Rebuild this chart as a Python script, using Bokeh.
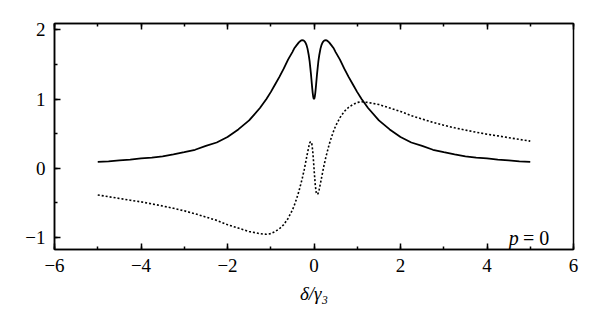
from bokeh.plotting import figure
from bokeh.models import (LinearAxis, SingleIntervalTicker, Range1d, Label,
                          CustomJSTickFormatter)
from bokeh.embed import file_html
from bokeh.resources import INLINE

# detuning delta / gamma_3
x = [-5.0, -4.75, -4.5, -4.25, -4.0, -3.75, -3.5, -3.25, -3.0, -2.75, -2.5,
     -2.25, -2.0, -1.75, -1.5, -1.25, -1.1, -1.0,
     -0.9, -0.8, -0.7, -0.6, -0.5, -0.45, -0.4, -0.35, -0.3, -0.275, -0.25,
     -0.225, -0.2, -0.175, -0.15, -0.12, -0.1, -0.085, -0.07, -0.06, -0.05,
     -0.04, -0.03, -0.02, -0.01,
     0.0,
     0.01, 0.02, 0.03, 0.04, 0.05, 0.06, 0.07, 0.085, 0.1, 0.12, 0.15, 0.175,
     0.2, 0.225, 0.25, 0.275, 0.3, 0.35, 0.4, 0.45, 0.5, 0.6, 0.7, 0.8, 0.9,
     1.0, 1.1, 1.25, 1.5, 1.75, 2.0, 2.25, 2.5, 2.75, 3.0, 3.25, 3.5, 3.75,
     4.0, 4.25, 4.5, 4.75, 5.0]

# solid curve (absorption)
absorption = [0.09, 0.098, 0.11, 0.121, 0.14, 0.152, 0.17, 0.197, 0.23, 0.265,
              0.32, 0.37, 0.45, 0.56, 0.69, 0.87, 1.00,
              1.10, 1.21, 1.32, 1.44, 1.57, 1.68, 1.74, 1.78, 1.82, 1.847,
              1.852, 1.85, 1.84, 1.82, 1.785, 1.73, 1.63, 1.54, 1.45, 1.36,
              1.29, 1.22, 1.15, 1.09, 1.04, 1.01,
              1.00,
              1.01, 1.04, 1.09, 1.15, 1.22, 1.29, 1.36, 1.45, 1.54, 1.63, 1.73,
              1.785, 1.82, 1.84, 1.85, 1.852, 1.847, 1.82, 1.78, 1.74, 1.68,
              1.57, 1.44, 1.32, 1.21, 1.10, 1.00, 0.87, 0.69, 0.56, 0.45, 0.37,
              0.32, 0.265, 0.23, 0.197, 0.17, 0.152, 0.14, 0.121, 0.11, 0.098,
              0.09]

# dotted curve (dispersion)
dispersion = [-0.39, -0.415, -0.44, -0.466, -0.49, -0.519, -0.55, -0.583,
              -0.62, -0.662, -0.71, -0.758, -0.82, -0.87, -0.92,
              -0.95, -0.96, -0.95, -0.92, -0.88, -0.82, -0.73, -0.61, -0.53,
              -0.44, -0.34, -0.22, -0.16, -0.09, -0.02, 0.06, 0.14, 0.22, 0.31,
              0.36, 0.38, 0.38, 0.37, 0.35, 0.30, 0.25, 0.17, 0.09,
              0.0,
              -0.09, -0.17, -0.25, -0.30, -0.35, -0.37, -0.38, -0.38, -0.36,
              -0.31, -0.22, -0.14, -0.06, 0.02, 0.09, 0.16, 0.22, 0.34, 0.44,
              0.53, 0.61, 0.73, 0.82, 0.88, 0.92, 0.95, 0.96, 0.95, 0.92, 0.87,
              0.82, 0.758, 0.71, 0.662, 0.62, 0.583, 0.55, 0.519, 0.49, 0.466,
              0.44, 0.415, 0.39]

FONT = "Liberation Serif"

p = figure(frame_width=519, frame_height=226, output_backend="svg",
           toolbar_location=None,
           x_range=Range1d(-6, 6), y_range=Range1d(-1.18, 2.094),
           min_border_left=54, min_border_right=19, min_border_top=23,
           min_border_bottom=60)

p.line(x, absorption, line_color="black", line_width=1.8)
p.line(x, dispersion, line_color="black", line_width=1.6, line_dash="2 2")

p.grid.visible = False
p.outline_line_color = "black"
p.outline_line_width = 1.5
p.background_fill_color = "white"
p.border_fill_color = "white"

fmt = CustomJSTickFormatter(code="return tick < 0 ? '\\u2212' + Math.abs(tick) : '' + tick;")

xa = p.xaxis[0]
xa.ticker = SingleIntervalTicker(interval=2, num_minor_ticks=2)
xa.formatter = fmt
ya = p.yaxis[0]
ya.ticker = SingleIntervalTicker(interval=1, num_minor_ticks=2)
ya.formatter = fmt

for ax in (xa, ya):
    ax.major_tick_in = 6
    ax.major_tick_out = 0
    ax.minor_tick_in = 3
    ax.minor_tick_out = 0
    ax.axis_line_width = 1.5
    ax.major_tick_line_width = 1.5
    ax.minor_tick_line_width = 1.5
    ax.major_label_text_font = FONT
    ax.major_label_text_font_size = "19px"
    ax.major_label_text_color = "black"
    ax.major_label_standoff = 9

xa.axis_label = "\u03b4/\u03b3\u2083"
xa.axis_label_text_font = FONT
xa.axis_label_text_font_style = "italic"
xa.axis_label_text_font_size = "19px"
xa.axis_label_text_color = "black"
xa.axis_label_standoff = 8

top = LinearAxis(ticker=SingleIntervalTicker(interval=2, num_minor_ticks=2),
                 formatter=CustomJSTickFormatter(code="return '';"),
                 major_tick_in=6, major_tick_out=0, minor_tick_in=3,
                 minor_tick_out=0, major_label_standoff=0,
                 axis_line_width=1.5, major_tick_line_width=1.5,
                 minor_tick_line_width=1.5)
p.add_layout(top, "above")

p.add_layout(Label(x=4.50, y=-1.02, text="p", text_font=FONT,
                   text_font_style="italic", text_font_size="20px",
                   text_baseline="alphabetic", text_color="black"))
p.add_layout(Label(x=4.83, y=-1.02, text="= 0", text_font=FONT,
                   text_font_size="20px", text_baseline="alphabetic",
                   text_color="black"))

open("out.html", "w").write(file_html(p, INLINE))
